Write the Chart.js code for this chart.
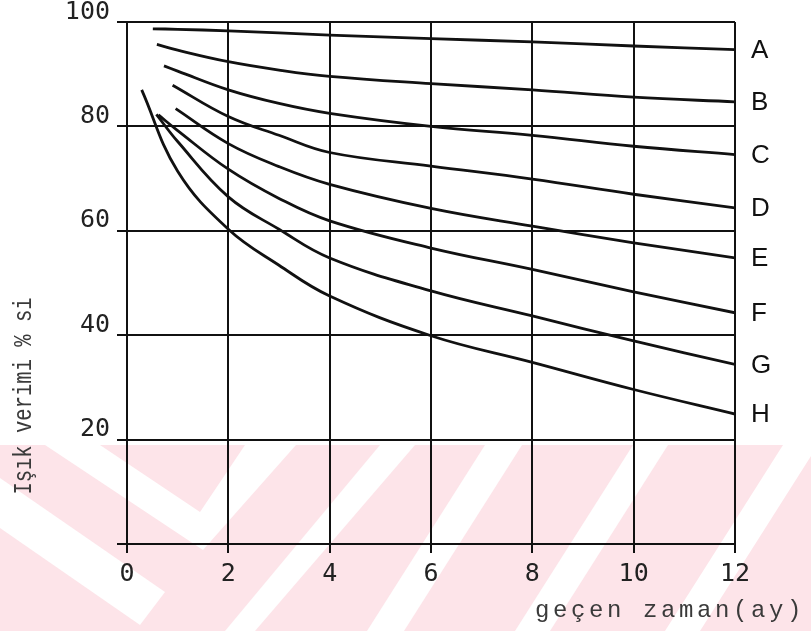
<!DOCTYPE html>
<html>
<head>
<meta charset="utf-8">
<script src="https://cdn.jsdelivr.net/npm/chart.js@4.4.1/dist/chart.umd.min.js"></script>
<style>
  html, body { margin: 0; padding: 0; background: #fff; }
  #wrap { width: 811px; height: 631px; position: relative; }
  canvas { display: block; }
</style>
</head>
<body>
<div id="wrap"><canvas id="chart" width="811" height="631"></canvas></div>
<script>
// Curve names shown at the right end of each line
const curveNames = ['A', 'B', 'C', 'D', 'E', 'F', 'G', 'H'];

// Elapsed time (months) and light output (%) for each curve
const monthsA = [0.51, 1, 2, 4, 6, 8, 10, 12];
const outputA = [98.7, 98.6, 98.3, 97.5, 96.8, 96.2, 95.4, 94.7];

const monthsB = [0.59, 1, 2, 3, 4, 6, 8, 10, 12];
const outputB = [95.7, 94.6, 92.4, 90.8, 89.6, 88.2, 87.0, 85.6, 84.7];

const monthsC = [0.73, 1, 2, 3, 4, 6, 8, 10, 12];
const outputC = [91.6, 90.6, 87.0, 84.4, 82.5, 80.0, 78.3, 76.2, 74.6];

const monthsD = [0.9, 2, 3, 4, 6, 8, 10, 12];
const outputD = [87.9, 81.9, 78.3, 75.0, 72.4, 69.9, 67.0, 64.4];

const monthsE = [0.96, 2, 3, 4, 6, 8, 10, 12];
const outputE = [83.4, 76.7, 72.3, 68.9, 64.3, 60.9, 57.7, 54.8];

const monthsF = [0.62, 1, 2, 3, 4, 6, 8, 10, 12];
const outputF = [82.2, 79.2, 71.8, 66.2, 61.9, 56.7, 52.6, 48.3, 44.3];

const monthsG = [0.58, 1, 2, 3, 4, 6, 8, 10, 12];
const outputG = [82.3, 77.1, 66.5, 60.3, 54.8, 48.5, 43.7, 38.9, 34.4];

const monthsH = [0.29, 1, 2, 3, 4, 6, 8, 10, 12];
const outputH = [87.0, 71.4, 60.3, 53.4, 47.5, 39.9, 34.8, 29.6, 24.9];

// Axis ticks and their labels
const xTicks = [0, 2, 4, 6, 8, 10, 12];
const xTickLabels = ['0', '2', '4', '6', '8', '10', '12'];
const yTicks = [0, 20, 40, 60, 80, 100];
const yTickLabels = ['', '20', '40', '60', '80', '100'];

const xTitle = 'geçen zaman(ay)';
const yTitle = 'Işık verimi % si';

const seriesMonths = [monthsA, monthsB, monthsC, monthsD, monthsE, monthsF, monthsG, monthsH];
const seriesOutput = [outputA, outputB, outputC, outputD, outputE, outputF, outputG, outputH];

const INK = '#111111';

const datasets = curveNames.map((name, i) => ({
  label: name,
  data: seriesMonths[i].map((m, k) => ({ x: m, y: seriesOutput[i][k] })),
  borderColor: INK,
  borderWidth: 2.8,
  pointRadius: 0,
  fill: false,
  tension: 0.4
}));

// Faint pink striped band behind the lower part of the sheet
const stampBand = {
  id: 'stampBand',
  beforeDraw(chart) {
    const ctx = chart.ctx;
    const W = chart.width, H = chart.height;
    ctx.save();
    ctx.fillStyle = '#ffffff';
    ctx.fillRect(0, 0, W, H);
    ctx.fillStyle = '#fde4e9';
    ctx.fillRect(0, 445, W, H - 445);
    ctx.fillStyle = '#ffffff';
    const shapes = [
      [[45, 445], [203, 550], [296, 445], [245, 445], [200, 512], [100, 445]],
      [[0, 478], [165, 592], [140, 625], [0, 528]],
      [[380, 445], [415, 445], [255, 631], [225, 631]],
      [[485, 445], [522, 445], [404, 631], [367, 631]],
      [[633, 445], [668, 445], [550, 631], [515, 631]],
      [[783, 445], [818, 445], [700, 631], [665, 631]]
    ];
    shapes.forEach(poly => {
      ctx.beginPath();
      poly.forEach(([x, y], k) => (k ? ctx.lineTo(x, y) : ctx.moveTo(x, y)));
      ctx.closePath();
      ctx.fill();
    });
    ctx.restore();
  }
};

// Curve letters at the line ends, plus the spaced typewriter axis titles
const annotations = {
  id: 'annotations',
  afterDraw(chart) {
    const ctx = chart.ctx;
    ctx.save();
    ctx.fillStyle = '#111';
    ctx.font = '26px "Liberation Sans", "DejaVu Sans", sans-serif';
    ctx.textAlign = 'left';
    ctx.textBaseline = 'middle';
    chart.data.datasets.forEach((ds, i) => {
      const meta = chart.getDatasetMeta(i);
      const last = meta.data[meta.data.length - 1];
      ctx.fillText(ds.label, last.x + 16, last.y + 1);
    });

    ctx.fillStyle = '#3a3a3a';
    ctx.font = '24px "Liberation Mono", "DejaVu Sans Mono", monospace';
    ctx.letterSpacing = '3.6px';
    ctx.textBaseline = 'alphabetic';
    ctx.fillText(xTitle, 535, 617);

    ctx.font = '26px "Liberation Mono", "DejaVu Sans Mono", monospace';
    ctx.letterSpacing = '0px';
    ctx.translate(24, 396);
    ctx.rotate(-Math.PI / 2);
    ctx.scale(0.79, 1);
    ctx.textAlign = 'center';
    ctx.textBaseline = 'middle';
    ctx.fillText(yTitle, 0, 0);
    ctx.restore();
  }
};

new Chart(document.getElementById('chart'), {
  type: 'line',
  data: { datasets },
  options: {
    responsive: false,
    animation: false,
    events: [],
    layout: { padding: { top: 20, right: 76, left: 0, bottom: 0 } },
    plugins: { legend: { display: false }, tooltip: { enabled: false }, title: { display: false } },
    scales: {
      x: {
        type: 'linear',
        min: 0,
        max: 12,
        afterBuildTicks: s => { s.ticks = xTicks.map(v => ({ value: v })); },
        afterFit: s => { s.height = 87; },
        grid: { color: INK, lineWidth: 2, tickLength: 9, drawTicks: true },
        border: { color: INK, width: 2 },
        ticks: {
          color: '#222',
          padding: 6,
          maxRotation: 0,
          autoSkip: false,
          font: { family: '"DejaVu Sans Mono", monospace', size: 25 },
          callback: (v, i) => xTickLabels[i]
        }
      },
      y: {
        type: 'linear',
        min: 0,
        max: 100,
        afterBuildTicks: s => { s.ticks = yTicks.map(v => ({ value: v })); },
        afterFit: s => { s.width = 127; },
        grid: { color: INK, lineWidth: 2, tickLength: 10, drawTicks: true },
        border: { color: INK, width: 2 },
        ticks: {
          color: '#222',
          padding: 7,
          labelOffset: -10,
          autoSkip: false,
          font: { family: '"DejaVu Sans Mono", monospace', size: 25 },
          callback: (v, i) => yTickLabels[i]
        }
      }
    }
  },
  plugins: [stampBand, annotations]
});
</script>
</body>
</html>
